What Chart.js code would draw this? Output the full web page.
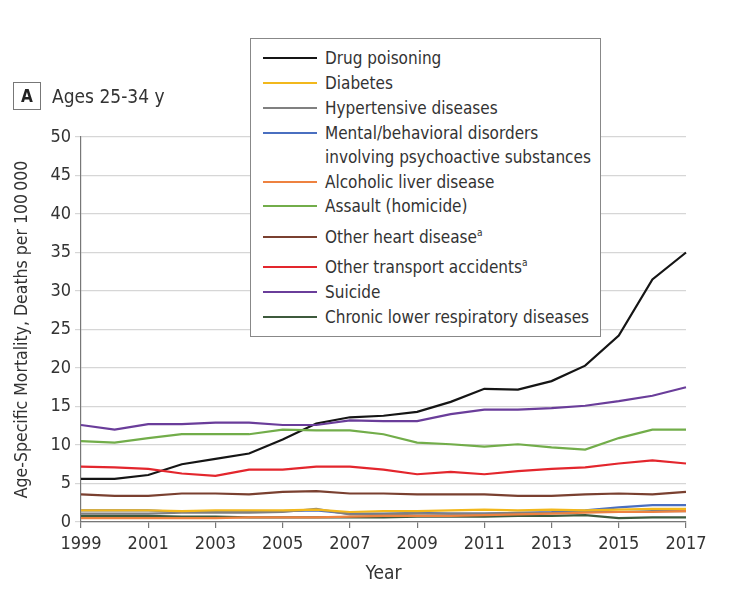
<!DOCTYPE html>
<html>
<head>
<meta charset="utf-8">
<script src="https://cdn.jsdelivr.net/npm/chart.js@4/dist/chart.umd.min.js"></script>
<style>
  html, body { margin: 0; padding: 0; background: #fff; }
  #wrap { position: relative; width: 740px; height: 596px; font-family: "Liberation Sans Narrow", "DejaVu Sans Condensed", sans-serif; color: #333; }
  #wrap canvas { position: absolute; left: 0; top: 0; }
  #panel { position: absolute; left: 13px; top: 82px; display: flex; align-items: center; }
  #panel .box { width: 28px; height: 28px; border: 1px solid #777; display: flex; align-items: center; justify-content: center; font-weight: bold; font-size: 17px; color: #222; box-sizing: border-box; }
  #panel .t { margin-left: 11px; font-size: 19px; color: #333; }
  #legend { position: absolute; left: 250px; top: 38px; width: 351px; height: 299px; box-sizing: border-box; border: 1px solid #888; background: #fff; }
  .item { position: absolute; left: 12px; display: flex; align-items: flex-start; font-size: 17px; line-height: 24px; color: #333; white-space: nowrap; }
  .item .sw { width: 54px; height: 2px; margin-top: 11px; margin-right: 8px; flex: none; }
  .item sup { font-size: 10px; vertical-align: 7px; line-height: 0; }
</style>
</head>
<body>
<div id="wrap">
  <canvas id="c" width="740" height="596"></canvas>
  <div id="panel"><div class="box">A</div><div class="t">Ages 25-34 y</div></div>
  <div id="legend"></div>
</div>
<script>
const years = ["1999","2000","2001","2002","2003","2004","2005","2006","2007","2008","2009","2010","2011","2012","2013","2014","2015","2016","2017"];

const drugPoisoning   = [5.6, 5.6, 6.1, 7.5, 8.2, 8.9, 10.7, 12.8, 13.6, 13.8, 14.3, 15.6, 17.3, 17.2, 18.3, 20.3, 24.2, 31.5, 35.0];
const diabetes        = [1.5, 1.5, 1.5, 1.4, 1.5, 1.5, 1.5, 1.6, 1.3, 1.4, 1.4, 1.5, 1.6, 1.5, 1.6, 1.5, 1.6, 1.7, 1.7];
const hypertensive    = [1.1, 1.1, 1.1, 1.2, 1.2, 1.2, 1.3, 1.7, 1.0, 1.0, 1.1, 1.1, 1.1, 1.2, 1.2, 1.3, 1.3, 1.4, 1.4];
const mentalBehav     = [1.5, 1.5, 1.5, 1.3, 1.3, 1.3, 1.4, 1.5, 1.1, 1.1, 1.2, 1.1, 1.1, 1.2, 1.3, 1.5, 1.9, 2.2, 2.2];
const alcoholicLiver  = [0.5, 0.5, 0.5, 0.5, 0.5, 0.6, 0.6, 0.6, 0.7, 0.8, 0.8, 0.8, 0.9, 1.0, 1.1, 1.2, 1.3, 1.3, 1.4];
const assault         = [10.5, 10.3, 10.9, 11.4, 11.4, 11.4, 12.0, 11.9, 11.9, 11.4, 10.3, 10.1, 9.8, 10.1, 9.7, 9.4, 10.9, 12.0, 12.0];
const otherHeart      = [3.6, 3.4, 3.4, 3.7, 3.7, 3.6, 3.9, 4.0, 3.7, 3.7, 3.6, 3.6, 3.6, 3.4, 3.4, 3.6, 3.7, 3.6, 3.9];
const otherTransport  = [7.2, 7.1, 6.9, 6.3, 6.0, 6.8, 6.8, 7.2, 7.2, 6.8, 6.2, 6.5, 6.2, 6.6, 6.9, 7.1, 7.6, 8.0, 7.6];
const suicide         = [12.6, 12.0, 12.7, 12.7, 12.9, 12.9, 12.6, 12.6, 13.2, 13.1, 13.1, 14.0, 14.6, 14.6, 14.8, 15.1, 15.7, 16.4, 17.5];
const chronicLower    = [0.8, 0.8, 0.8, 0.7, 0.7, 0.6, 0.6, 0.6, 0.6, 0.6, 0.7, 0.7, 0.7, 0.8, 0.8, 0.9, 0.5, 0.6, 0.6];

const seriesNames = ["Drug poisoning", "Diabetes", "Hypertensive diseases", "Mental/behavioral disorders\ninvolving psychoactive substances", "Alcoholic liver disease", "Assault (homicide)", "Other heart disease", "Other transport accidents", "Suicide", "Chronic lower respiratory diseases"];
const seriesNotes = ["", "", "", "", "", "", "a", "a", "", ""];
const seriesData = [drugPoisoning, diabetes, hypertensive, mentalBehav, alcoholicLiver, assault, otherHeart, otherTransport, suicide, chronicLower];
const seriesColors = ["#151515", "#f2b81c", "#808080", "#4a6fc0", "#ee8240", "#72ad4a", "#7a4030", "#e3262d", "#6a3d9a", "#3d5a3c"];
const legendRowTops = [7, 32, 57, 82, 131, 155, 186, 216, 241, 266];

const yTicks = { min: 0, max: 50, step: 5 };
const yTitle = "Age-Specific Mortality, Deaths per 100\u2009000";
const xTitle = "Year";

// Legend (HTML)
const leg = document.getElementById('legend');
seriesNames.forEach((n, i) => {
  const d = document.createElement('div');
  d.className = 'item';
  d.style.top = legendRowTops[i] + 'px';
  const sw = document.createElement('div');
  sw.className = 'sw';
  sw.style.background = seriesColors[i];
  const t = document.createElement('div');
  n.split('\n').forEach((line, k) => {
    if (k) t.appendChild(document.createElement('br'));
    t.appendChild(document.createTextNode(line));
  });
  if (seriesNotes[i]) { const s = document.createElement('sup'); s.textContent = seriesNotes[i]; t.appendChild(s); }
  d.appendChild(sw); d.appendChild(t);
  leg.appendChild(d);
});

const FONT = "'Liberation Sans Narrow', 'DejaVu Sans Condensed', sans-serif";
const drawOrder = [4, 1, 2, 3, 9, 6, 7, 5, 8, 0];

new Chart(document.getElementById('c'), {
  type: 'line',
  data: {
    labels: years,
    datasets: drawOrder.map(i => ({
      label: seriesNames[i],
      data: seriesData[i],
      borderColor: seriesColors[i],
      backgroundColor: seriesColors[i],
      borderWidth: 2.2,
      pointRadius: 0,
      tension: 0,
      fill: false
    }))
  },
  options: {
    responsive: false,
    animation: false,
    layout: { padding: { top: 137, right: 54, left: 0, bottom: 0 } },
    plugins: { legend: { display: false }, tooltip: { enabled: false } },
    scales: {
      x: {
        type: 'category',
        offset: false,
        afterFit: s => { s.height = 74; },
        grid: {
          drawOnChartArea: false,
          tickLength: 6,
          color: ctx => (ctx.index % 2 === 0 ? '#777' : 'rgba(0,0,0,0)'),
          lineWidth: 1.2
        },
        border: { color: '#777', width: 1.2 },
        ticks: {
          autoSkip: false, maxRotation: 0, padding: 6,
          color: '#333', font: { family: FONT, size: 18 },
          callback: function(v, i) { return i % 2 === 0 ? this.getLabelForValue(v) : ''; }
        },
        title: { display: true, text: xTitle, color: '#333', font: { family: FONT, size: 19 }, padding: { top: 0, bottom: 11 } }
      },
      y: {
        min: yTicks.min, max: yTicks.max,
        afterFit: s => { s.width = 81; },
        grid: { color: '#d6d6d6', lineWidth: 1.2, tickLength: 6, drawTicks: true },
        border: { color: '#777', width: 1.2 },
        ticks: { stepSize: yTicks.step, padding: 4, color: '#333', font: { family: FONT, size: 18 } },
        title: { display: true, text: yTitle, color: '#333', font: { family: FONT, size: 17.5 }, padding: { top: 12, bottom: 0 } }
      }
    }
  }
});
</script>
</body>
</html>
